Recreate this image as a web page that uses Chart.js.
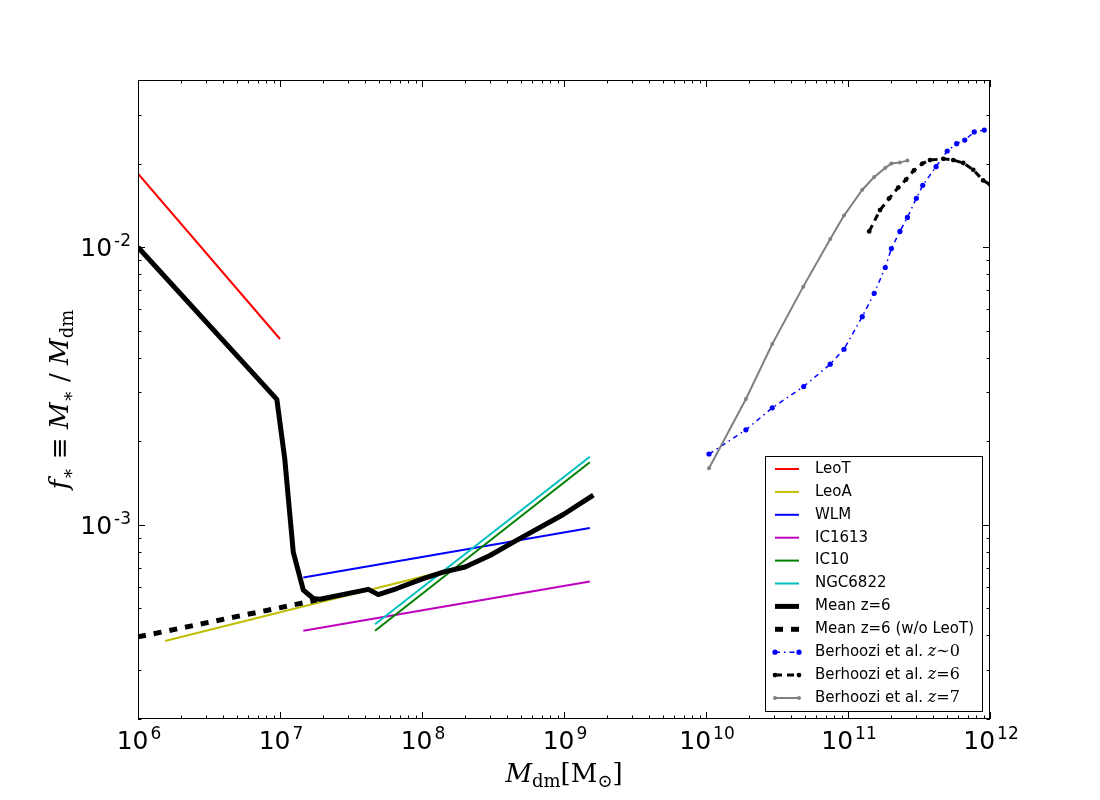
<!DOCTYPE html>
<html>
<head>
<meta charset="utf-8">
<script src="https://cdn.jsdelivr.net/npm/chart.js@4.4.1/dist/chart.umd.min.js"></script>
<style>
html, body { margin: 0; padding: 0; background: #fff; }
#wrap { width: 1100px; height: 800px; }
</style>
</head>
<body>
<div id="wrap"><canvas id="massChart" width="1100" height="800"></canvas></div>
<script>
// Halo mass (Msun) and stellar fraction f* = M*/Mdm
const leoTMass = [1.0e6, 1.0e7];
const leoTFrac = [1.84e-2, 4.67e-3];

const leoAMass = [1.55e6, 1.41e8];
const leoAFrac = [3.82e-4, 6.80e-4];

const wlmMass = [1.46e7, 1.52e9];
const wlmFrac = [6.46e-4, 9.75e-4];

const ic1613Mass = [1.46e7, 1.52e9];
const ic1613Frac = [4.16e-4, 6.25e-4];

const ic10Mass = [4.67e7, 1.52e9];
const ic10Frac = [4.16e-4, 1.68e-3];

const ngc6822Mass = [4.67e7, 1.52e9];
const ngc6822Frac = [4.39e-4, 1.76e-3];

const meanMass = [1.0e6, 9.5e6, 1.08e7, 1.24e7, 1.46e7, 1.72e7, 1.91e7, 4.19e7, 4.92e7,
    6.64e7, 1.02e8, 1.41e8, 2.01e8, 3.01e8, 4.40e8, 9.89e8, 1.61e9];
const meanFrac = [1.00e-2, 2.83e-3, 1.73e-3, 7.98e-4, 5.82e-4, 5.43e-4, 5.40e-4, 5.86e-4, 5.61e-4,
    5.90e-4, 6.40e-4, 6.76e-4, 7.05e-4, 7.76e-4, 8.67e-4, 1.09e-3, 1.28e-3];

const meanNoLeoTMass = [1.0e6, 1.81e7];
const meanNoLeoTFrac = [3.95e-4, 5.36e-4];

const behroozi0Mass = [1.05e10, 1.91e10, 2.93e10, 4.87e10, 7.50e10, 9.37e10, 1.26e11, 1.53e11, 1.83e11, 2.02e11,
    2.32e11, 2.62e11, 3.03e11, 3.36e11, 4.17e11, 5.00e11, 5.82e11, 6.64e11, 7.75e11, 9.12e11];
const behroozi0Frac = [1.80e-3, 2.20e-3, 2.64e-3, 3.15e-3, 3.79e-3, 4.29e-3, 5.62e-3, 6.82e-3, 8.45e-3, 9.89e-3,
    1.14e-2, 1.28e-2, 1.50e-2, 1.67e-2, 1.95e-2, 2.22e-2, 2.36e-2, 2.43e-2, 2.60e-2, 2.64e-2];

const behroozi6Mass = [1.41e11, 1.68e11, 1.95e11, 2.26e11, 2.56e11, 2.91e11, 3.34e11, 3.78e11, 4.69e11,
    5.51e11, 6.48e11, 7.62e11, 8.95e11, 1.0e12];
const behroozi6Frac = [1.14e-2, 1.36e-2, 1.50e-2, 1.64e-2, 1.75e-2, 1.89e-2, 2.00e-2, 2.06e-2, 2.08e-2,
    2.06e-2, 2.01e-2, 1.90e-2, 1.74e-2, 1.68e-2];

const behroozi7Mass = [1.05e10, 1.91e10, 2.93e10, 4.84e10, 7.50e10, 9.37e10, 1.26e11, 1.53e11, 1.83e11,
    2.02e11, 2.32e11, 2.62e11];
const behroozi7Frac = [1.60e-3, 2.84e-3, 4.48e-3, 7.21e-3, 1.07e-2, 1.30e-2, 1.61e-2, 1.79e-2, 1.93e-2,
    2.00e-2, 2.02e-2, 2.05e-2];

// legend text (plain part and math part)
const legendText = ['LeoT', 'LeoA', 'WLM', 'IC1613', 'IC10', 'NGC6822', 'Mean z=6', 'Mean z=6 (w/o LeoT)',
    'Berhoozi et al. ', 'Berhoozi et al. ', 'Berhoozi et al. '];
const legendMath = [null, null, null, null, null, null, null, null, '\u223C0', '=6', '=7'];

const xTicks = [1e6, 1e7, 1e8, 1e9, 1e10, 1e11, 1e12];
const yTicks = [1e-3, 1e-2];

function toPoints(xs, ys) {
    return xs.map((x, i) => ({ x: x, y: ys[i] }));
}

function series(label, xs, ys, style) {
    return Object.assign({
        label: label,
        data: toPoints(xs, ys),
        fill: false,
        tension: 0,
        pointRadius: 0,
        pointBorderWidth: 0,
        borderCapStyle: 'butt',
        borderJoinStyle: 'round'
    }, style);
}

const datasets = [
    series('LeoT', leoTMass, leoTFrac, { borderColor: '#ff0000', borderWidth: 2 }),
    series('LeoA', leoAMass, leoAFrac, { borderColor: '#bfbf00', borderWidth: 2 }),
    series('WLM', wlmMass, wlmFrac, { borderColor: '#0000ff', borderWidth: 2 }),
    series('IC1613', ic1613Mass, ic1613Frac, { borderColor: '#bf00bf', borderWidth: 2 }),
    series('IC10', ic10Mass, ic10Frac, { borderColor: '#008000', borderWidth: 2 }),
    series('NGC6822', ngc6822Mass, ngc6822Frac, { borderColor: '#00bfbf', borderWidth: 2 }),
    series('Mean z=6', meanMass, meanFrac, { borderColor: '#000000', borderWidth: 5 }),
    series('Mean z=6 (w/o LeoT)', meanNoLeoTMass, meanNoLeoTFrac,
        { borderColor: '#000000', borderWidth: 5, borderDash: [8, 8] }),
    series('Berhoozi et al. z~0', behroozi0Mass, behroozi0Frac, {
        borderColor: '#0000ff', borderWidth: 1.5, borderDash: [5, 4, 1.5, 4],
        pointRadius: 2.6, pointBackgroundColor: '#0000ff'
    }),
    series('Berhoozi et al. z=6', behroozi6Mass, behroozi6Frac, {
        borderColor: '#000000', borderWidth: 3, borderDash: [7, 5],
        pointRadius: 2.4, pointBackgroundColor: '#000000'
    }),
    series('Berhoozi et al. z=7', behroozi7Mass, behroozi7Frac, {
        borderColor: '#808080', borderWidth: 2,
        pointRadius: 2, pointBackgroundColor: '#808080'
    })
];
// later series sit on top, as in the original
datasets.forEach((ds, i) => { ds.order = datasets.length - i; });

function drawRuns(ctx, runs, cx, baseY) {
    let total = 0;
    runs.forEach(r => { ctx.font = r.font; r.w = ctx.measureText(r.t).width; total += r.w; });
    let x = cx - total / 2;
    ctx.textAlign = 'left';
    ctx.textBaseline = 'alphabetic';
    runs.forEach(r => { ctx.font = r.font; ctx.fillText(r.t, x, baseY + (r.dy || 0)); x += r.w; });
}

const BASE_FONT = '25px "DejaVu Sans"';
const EXP_FONT = '17px "DejaVu Sans"';

// "10" with a raised exponent, anchored by its right edge or centre
function powerText(ctx, value, anchorX, baseY, align) {
    const exp = String(Math.round(Math.log10(value)));
    ctx.font = BASE_FONT;
    const w1 = ctx.measureText('10').width;
    ctx.font = EXP_FONT;
    const w2 = ctx.measureText(exp).width;
    const total = w1 + 2 + w2;
    const x0 = align === 'right' ? anchorX - total : anchorX - total / 2;
    ctx.textAlign = 'left';
    ctx.textBaseline = 'alphabetic';
    ctx.font = BASE_FONT;
    ctx.fillText('10', x0, baseY);
    ctx.font = EXP_FONT;
    ctx.fillText(exp, x0 + w1 + 2, baseY - 10);
}

// frame, inward ticks on all four sides, tick labels, titles, legend
const frameTicks = {
    id: 'frameTicks',
    afterDatasetsDraw(chart) {
        const { ctx, chartArea: a, scales: { x, y } } = chart;
        ctx.save();
        ctx.strokeStyle = '#000';
        ctx.lineWidth = 1;
        ctx.strokeRect(a.left + 0.5, a.top + 0.5, a.right - a.left - 1, a.bottom - a.top - 1);

        const tick = (px, py, dx, dy) => {
            ctx.beginPath(); ctx.moveTo(px, py); ctx.lineTo(px + dx, py + dy); ctx.stroke();
        };
        for (let d = 6; d <= 12; d++) {
            for (let k = 1; k <= 9; k++) {
                const v = k * Math.pow(10, d);
                if (v < 1e6 || v > 1e12) continue;
                const px = Math.round(x.getPixelForValue(v)) + 0.5;
                const len = k === 1 ? 7 : 3.5;
                tick(px, a.bottom, 0, -len);
                tick(px, a.top, 0, len);
            }
        }
        for (let d = -4; d <= -2; d++) {
            for (let k = 1; k <= 9; k++) {
                const v = k * Math.pow(10, d);
                if (v < 2e-4 || v > 4e-2) continue;
                const py = Math.round(y.getPixelForValue(v)) + 0.5;
                const len = k === 1 ? 7 : 3.5;
                tick(a.left, py, len, 0);
                tick(a.right, py, -len, 0);
            }
        }
        ctx.restore();
    },
    afterDraw(chart) {
        const { ctx, chartArea: a, scales: { x, y } } = chart;
        ctx.save();
        ctx.fillStyle = '#000';
        x.ticks.forEach(t => powerText(ctx, t.value, x.getPixelForValue(t.value) + 1, a.bottom + 30, 'center'));
        y.ticks.forEach(t => powerText(ctx, t.value, a.left - 7, y.getPixelForValue(t.value) + 9, 'right'));

        const it = 'italic 26px "DejaVu Serif"';
        const rm = '26px "DejaVu Serif"';
        const subIt = '18px "DejaVu Serif"';
        // x title: M_dm [M_sun]
        drawRuns(ctx, [
            { t: 'M', font: it },
            { t: 'dm', font: subIt, dy: 5 },
            { t: '[', font: rm },
            { t: 'M', font: rm },
            { t: '\u2299', font: subIt, dy: 5 },
            { t: ']', font: rm }
        ], (a.left + a.right) / 2, 782);
        // y title: f* = M*/Mdm
        ctx.translate(68, (a.top + a.bottom) / 2);
        ctx.rotate(-Math.PI / 2);
        drawRuns(ctx, [
            { t: 'f', font: it },
            { t: '\u2217', font: subIt, dy: 6 },
            { t: ' \u2261 ', font: rm },
            { t: 'M', font: it },
            { t: '\u2217', font: subIt, dy: 6 },
            { t: ' / ', font: rm },
            { t: 'M', font: it },
            { t: 'dm', font: subIt, dy: 5 }
        ], 0, 0);
        ctx.restore();

        // legend box
        ctx.save();
        const left = 765.5, top = 456.5, w = 217, h = 255;
        ctx.fillStyle = '#fff';
        ctx.fillRect(left, top, w, h);
        ctx.strokeStyle = '#000';
        ctx.lineWidth = 1;
        ctx.strokeRect(left, top, w, h);
        chart.data.datasets.forEach((ds, i) => {
            const ry = 469 + i * 22.9;
            const x0 = 775, x1 = 799;
            ctx.beginPath();
            ctx.setLineDash(ds.borderDash || []);
            ctx.lineWidth = ds.borderWidth;
            ctx.strokeStyle = ds.borderColor;
            ctx.lineCap = 'butt';
            ctx.moveTo(x0, ry);
            ctx.lineTo(x1, ry);
            ctx.stroke();
            ctx.setLineDash([]);
            if (ds.pointRadius > 0) {
                ctx.fillStyle = ds.pointBackgroundColor;
                [x0, x1].forEach(px => {
                    ctx.beginPath();
                    ctx.arc(px, ry, ds.pointRadius, 0, 2 * Math.PI);
                    ctx.fill();
                });
            }
            ctx.fillStyle = '#000';
            ctx.textAlign = 'left';
            ctx.textBaseline = 'middle';
            ctx.font = '15px "DejaVu Sans"';
            ctx.fillText(legendText[i], 815, ry);
            if (legendMath[i]) {
                let tx = 815 + ctx.measureText(legendText[i]).width;
                ctx.font = 'italic 16px "DejaVu Serif"';
                ctx.fillText('z', tx, ry);
                tx += ctx.measureText('z').width;
                ctx.font = '16px "DejaVu Serif"';
                ctx.fillText(legendMath[i], tx, ry);
            }
        });
        ctx.restore();
    }
};

new Chart(document.getElementById('massChart').getContext('2d'), {
    type: 'line',
    data: { datasets: datasets },
    options: {
        responsive: false,
        animation: false,
        devicePixelRatio: 1,
        layout: { padding: { left: 0, right: 110, top: 80, bottom: 0 } },
        plugins: { legend: { display: false }, tooltip: { enabled: false } },
        scales: {
            x: {
                type: 'logarithmic',
                min: 1e6,
                max: 1e12,
                grid: { display: false, drawTicks: false },
                border: { display: false },
                afterBuildTicks: s => { s.ticks = xTicks.map(v => ({ value: v })); },
                afterFit: s => { s.height = 81; },
                ticks: { display: false }
            },
            y: {
                type: 'logarithmic',
                min: 2e-4,
                max: 4e-2,
                grid: { display: false, drawTicks: false },
                border: { display: false },
                afterBuildTicks: s => { s.ticks = yTicks.map(v => ({ value: v })); },
                afterFit: s => { s.width = 138; },
                ticks: { display: false }
            }
        }
    },
    plugins: [frameTicks]
});
</script>
</body>
</html>
